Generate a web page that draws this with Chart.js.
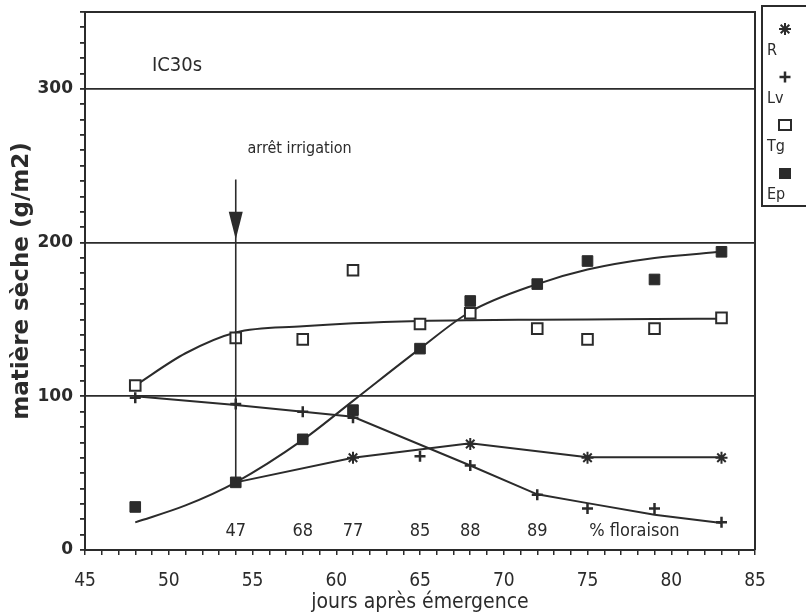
<!DOCTYPE html>
<html><head><meta charset="utf-8">
<script src="https://cdn.jsdelivr.net/npm/chart.js@4/dist/chart.umd.min.js"></script>
<style>html,body{margin:0;padding:0;background:#fff}#wrap{width:806px;height:616px;position:relative}</style>
</head><body><div id="wrap"><canvas id="c" width="806" height="616"></canvas></div>
<script>
// ---- data ----
const days = [48, 54, 58, 61, 65, 68, 72, 75, 79, 83];
const tgValues = [107, 138, 137, 182, 147, 154, 144, 137, 144, 151];
const epValues = [28, 44, 72, 91, 131, 162, 173, 188, 176, 194];
const lvValues = [99, 95, 90, 86, 61, 55, 36, 27, 27, 18];
const rDays = [61, 68, 75, 83];
const rValues = [60, 69, 60, 60];

// fitted curves
const fitDays = [48, 51, 54, 58, 61, 65, 68, 72, 75, 79, 83];
const tgFit = [107, 128, 141.5, 145.5, 147.5, 149, 149.5, 149.8, 150, 150.2, 150.5];
const epFit = [18, 29, 44, 71.6, 97, 131, 155, 173, 182.5, 190, 194];
const lvFitDays = [48, 54, 61, 68, 72, 75, 79, 83];
const lvFit = [100, 94.3, 86.7, 55, 36.2, 30.5, 23, 17.5];
const rFitDays = [54, 61, 68, 75, 83];
const rFit = [44, 60, 69.5, 60.3, 60.3];

// annotations
const floraisonDays = [54, 58, 61, 65, 68, 72];
const floraisonPct = ['47', '68', '77', '85', '88', '89'];
const floraisonTextDay = 77.8;
const floraisonText = '% floraison';
const floraisonLevel = 12;
const irrigationDay = 54;
const irrigationTop = 241;
const irrigationBottom = 44;
const arrowTip = 202;
const arrowBase = 220;
const irrigationText = 'arrêt irrigation';
const irrigationTextDay = 54.7;
const irrigationTextLevel = 261;
const plotTitle = 'IC30s';
const plotTitleDay = 49;
const plotTitleLevel = 315;

// axes
const xMin = 45, xMax = 85, xMinorStep = 1;
const xTickLabels = ['45', '50', '55', '60', '65', '70', '75', '80', '85'];
const yMin = 0, yMax = 350, yMinorStep = 10;
const yTickLabels = ['0', '100', '200', '300'];
const xTitle = 'jours après émergence';
const yTitle = 'matière sèche (g/m2)';

const INK = '#2b2b2b';
const FONT = "'DejaVu Sans', sans-serif";
const FONTC = "'DejaVu Sans Condensed', 'DejaVu Sans', sans-serif";

const pts = (xs, ys) => xs.map((x, i) => ({x: x, y: ys[i]}));

const lineDs = (data) => ({
  type: 'line', data: data, showLine: true, borderColor: INK, borderWidth: 2,
  pointRadius: 0, fill: false, order: 10, isFit: true
});

const datasets = [
  Object.assign(lineDs(pts(fitDays, tgFit)), {label: 'Tg fit', cubicInterpolationMode: 'monotone'}),
  Object.assign(lineDs(pts(fitDays, epFit)), {label: 'Ep fit', cubicInterpolationMode: 'monotone'}),
  Object.assign(lineDs(pts(lvFitDays, lvFit)), {label: 'Lv fit', tension: 0}),
  Object.assign(lineDs(pts(rFitDays, rFit)), {label: 'R fit', tension: 0}),
  {label: 'R', data: pts(rDays, rValues), pointStyle: 'star', pointRadius: 6, borderWidth: 2,
   borderColor: INK, backgroundColor: INK, order: 4, showLine: false},
  {label: 'Lv', data: pts(days, lvValues), pointStyle: 'cross', pointRadius: 5.5, borderWidth: 2.5,
   borderColor: INK, backgroundColor: INK, order: 3, showLine: false},
  {label: 'Tg', data: pts(days, tgValues), pointStyle: 'rect', pointRadius: 7.5, borderWidth: 2,
   borderColor: INK, backgroundColor: '#fff', order: 2, showLine: false},
  {label: 'Ep', data: pts(days, epValues), pointStyle: 'rect', pointRadius: 7.5, borderWidth: 1,
   borderColor: INK, backgroundColor: INK, order: 1, showLine: false}
];

function buildTicks(min, max, step) {
  const t = [];
  for (let v = min; v <= max + 1e-9; v += step) t.push({value: Math.round(v * 1000) / 1000});
  return t;
}

const decor = {
  id: 'decor',
  afterDatasetsDraw(chart) {
    const ctx = chart.ctx, a = chart.chartArea;
    const xs = chart.scales.x, ys = chart.scales.y;
    ctx.save();
    ctx.strokeStyle = INK; ctx.fillStyle = INK;
    // frame top & right
    ctx.lineWidth = 2;
    ctx.beginPath();
    ctx.moveTo(a.left, a.top); ctx.lineTo(a.right, a.top); ctx.lineTo(a.right, a.bottom);
    ctx.stroke();

    // irrigation arrow
    const ax = xs.getPixelForValue(irrigationDay);
    ctx.lineWidth = 1.6;
    ctx.beginPath();
    ctx.moveTo(ax, ys.getPixelForValue(irrigationTop));
    ctx.lineTo(ax, ys.getPixelForValue(irrigationBottom));
    ctx.stroke();
    const tipY = ys.getPixelForValue(arrowTip), baseY = ys.getPixelForValue(arrowBase);
    ctx.beginPath();
    ctx.moveTo(ax - 7, baseY); ctx.lineTo(ax + 7, baseY); ctx.lineTo(ax, tipY); ctx.closePath();
    ctx.fill();

    ctx.textBaseline = 'middle';
    ctx.textAlign = 'left';
    ctx.font = '16px ' + FONTC;
    ctx.fillText(irrigationText, xs.getPixelForValue(irrigationTextDay), ys.getPixelForValue(irrigationTextLevel));

    ctx.font = '20px ' + FONTC;
    ctx.fillText(plotTitle, xs.getPixelForValue(plotTitleDay), ys.getPixelForValue(plotTitleLevel));

    // floraison
    ctx.textAlign = 'center';
    ctx.font = '18px ' + FONTC;
    const fy = ys.getPixelForValue(floraisonLevel);
    floraisonDays.forEach((d, i) => ctx.fillText(floraisonPct[i], xs.getPixelForValue(d), fy));
    ctx.fillText(floraisonText, xs.getPixelForValue(floraisonTextDay), fy);

    // legend box
    ctx.lineWidth = 2;
    ctx.strokeRect(762, 6, 60, 200);
    const legendSets = chart.data.datasets.filter(d => !d.isFit);
    ctx.font = '16px ' + FONTC;
    ctx.textAlign = 'left';
    legendSets.forEach((d, i) => {
      const my = 29 + i * 48, mx = 785, ty = my + 22;
      ctx.strokeStyle = INK; ctx.fillStyle = INK;
      if (d.pointStyle === 'star') {
        ctx.lineWidth = 2;
        const r = 6;
        ctx.beginPath();
        ctx.moveTo(mx - r, my); ctx.lineTo(mx + r, my);
        ctx.moveTo(mx, my - r); ctx.lineTo(mx, my + r);
        const q = r * 0.72;
        ctx.moveTo(mx - q, my - q); ctx.lineTo(mx + q, my + q);
        ctx.moveTo(mx - q, my + q); ctx.lineTo(mx + q, my - q);
        ctx.stroke();
      } else if (d.pointStyle === 'cross') {
        ctx.lineWidth = 2.5;
        const r = 5.5;
        ctx.beginPath();
        ctx.moveTo(mx - r, my); ctx.lineTo(mx + r, my);
        ctx.moveTo(mx, my - r); ctx.lineTo(mx, my + r);
        ctx.stroke();
      } else if (d.backgroundColor === '#fff') {
        ctx.lineWidth = 2;
        ctx.strokeRect(mx - 6, my - 5, 12, 10);
      } else {
        ctx.fillRect(mx - 6, my - 5, 12, 11);
      }
      ctx.fillStyle = INK;
      ctx.fillText(d.label, 767, ty);
    });
    ctx.restore();
  }
};

new Chart(document.getElementById('c'), {
  type: 'scatter',
  data: {datasets: datasets},
  plugins: [decor],
  options: {
    responsive: false,
    animation: false,
    events: [],
    layout: {padding: {top: 12, right: 51, left: 0, bottom: 0}},
    plugins: {legend: {display: false}, tooltip: {enabled: false}},
    scales: {
      x: {
        type: 'linear', min: xMin, max: xMax,
        afterBuildTicks: (s) => { s.ticks = buildTicks(xMin, xMax, xMinorStep); },
        afterFit: (s) => { s.height = 66; s.paddingLeft = 0; s.paddingRight = 0; },
        ticks: {
          autoSkip: false, maxRotation: 0, color: INK, padding: 15,
          font: {family: FONTC, size: 19},
          callback: (v) => { const k = xTickLabels.indexOf(String(v)); return k >= 0 ? xTickLabels[k] : ''; }
        },
        grid: {color: 'transparent', tickColor: INK, tickLength: 5, lineWidth: 1.5, drawOnChartArea: false},
        border: {display: true, color: INK, width: 2},
        title: {display: true, text: xTitle, color: INK, font: {family: FONTC, size: 21}, padding: {top: 0, bottom: 1}}
      },
      y: {
        type: 'linear', min: yMin, max: yMax,
        afterBuildTicks: (s) => { s.ticks = buildTicks(yMin, yMax, yMinorStep); },
        afterFit: (s) => { s.width = 85; s.paddingTop = 0; s.paddingBottom = 0; },
        ticks: {
          autoSkip: false, color: INK, padding: 7,
          font: {family: FONT, size: 17, weight: 'bold'},
          callback: (v) => { const k = yTickLabels.indexOf(String(v)); return k >= 0 ? yTickLabels[k] : ''; }
        },
        grid: {
          color: (c) => (c.tick && c.tick.value % 100 === 0 && c.tick.value > yMin && c.tick.value < yMax) ? INK : 'transparent',
          tickColor: INK, tickLength: 5, lineWidth: 1.8
        },
        border: {display: true, color: INK, width: 2},
        title: {display: true, text: yTitle, color: INK, font: {family: FONT, size: 23, weight: 'bold'}, padding: {top: 8, bottom: 0}}
      }
    }
  }
});
</script>
</body></html>
